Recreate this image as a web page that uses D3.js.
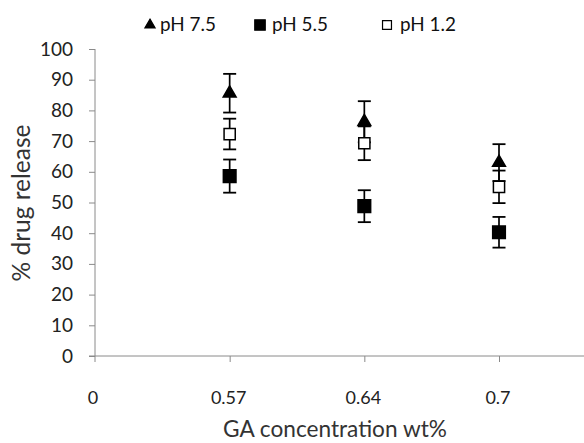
<!DOCTYPE html>
<html><head><meta charset="utf-8">
<script src="https://cdn.jsdelivr.net/npm/d3@7"></script>
<style>body{margin:0;background:#fff}svg{display:block}</style>
</head><body>
<script>
const categories = ["0", "0.57", "0.64", "0.7"];
const yTicks = [0,10,20,30,40,50,60,70,80,90,100];
const seriesNames = ["pH 7.5", "pH 5.5", "pH 1.2"];
const ph75 = [null, 85.6, 76.3, 63.0];
const ph75Err = [null, 6.3, 6.7, 6.0];
const ph55 = [null, 58.6, 48.8, 40.3];
const ph55Err = [null, 5.4, 5.2, 5.0];
const ph12 = [null, 72.3, 69.3, 55.1];
const ph12Err = [null, 5.0, 5.5, 5.3];

const W = 584, H = 443;
const svg = d3.select("body").append("svg").attr("width", W).attr("height", H);
const x = d3.scaleLinear().domain([0, 3]).range([95, 499]);
const y = d3.scaleLinear().domain([0, 100]).range([356, 49]);
const font = "Lato, 'Open Sans', sans-serif";
const axisColor = "#8a8a8a";

function fit(sel, target) {
  sel.each(function() {
    const w = this.getComputedTextLength();
    const fs = parseFloat(this.style.fontSize);
    if (w > 0) d3.select(this).style("font-size", (fs * target / w) + "px");
  });
}

// Y axis
const ya = svg.append("g").attr("transform", "translate(95,0)")
  .call(d3.axisLeft(y).tickValues(yTicks).tickSize(6).tickPadding(16));
ya.select(".domain").remove();
ya.append("line").attr("x1",0).attr("x2",0).attr("y1",y(100)).attr("y2",y(0)+6).attr("stroke",axisColor);
ya.selectAll(".tick line").attr("stroke", axisColor);
ya.selectAll(".tick text").attr("fill","#222").style("font-family", font).style("font-size","19px");

// X axis
const xa = svg.append("g").attr("transform", "translate(0,356)")
  .call(d3.axisBottom(x).tickValues([1,2,3]).tickFormat(i => categories[i]).tickSize(6));
xa.select(".domain").remove();
xa.append("line").attr("x1", x(0)-6).attr("x2", W).attr("y1",0).attr("y2",0).attr("stroke",axisColor);
xa.selectAll(".tick line").attr("stroke", axisColor);
xa.selectAll(".tick text").remove();
svg.append("g").selectAll("text").data(categories).join("text")
  .attr("x", (d,i) => x(i) - (i===0 ? 2 : 1)).attr("y", 404).attr("text-anchor","middle")
  .attr("fill","#222").style("font-family", font).style("font-size","18px").text(d => d);

// Axis titles
svg.append("text").attr("transform","translate(30,203) rotate(-90)").attr("text-anchor","middle")
  .attr("fill","#333").style("font-family", font).style("font-size","19px").text("% drug release")
  .call(fit, 157);
svg.append("text").attr("x", 335).attr("y", 437).attr("text-anchor","middle")
  .attr("fill","#333").style("font-family", font).style("font-size","20px").text("GA concentration wt%")
  .call(fit, 224);

// Error bars and markers
const series = [
  {vals: ph75, err: ph75Err, sym: d3.symbolTriangle, fill:"#000", size: 72},
  {vals: ph12, err: ph12Err, sym: d3.symbolSquare, fill:"#fff", size: 125},
  {vals: ph55, err: ph55Err, sym: d3.symbolSquare, fill:"#000", size: 160}
];
series.forEach(s => {
  const g = svg.append("g");
  const idx = [1,2,3];
  g.selectAll("line.v").data(idx).join("line")
    .attr("x1", i => x(i)).attr("x2", i => x(i))
    .attr("y1", i => y(s.vals[i] + s.err[i])).attr("y2", i => y(s.vals[i] - s.err[i]))
    .attr("stroke","#000").attr("stroke-width",1.7);
  [1,-1].forEach(sg => {
    g.selectAll("line.c"+sg).data(idx).join("line")
      .attr("x1", i => x(i)-6.5).attr("x2", i => x(i)+6.5)
      .attr("y1", i => y(s.vals[i] + sg*s.err[i])).attr("y2", i => y(s.vals[i] + sg*s.err[i]))
      .attr("stroke","#000").attr("stroke-width",1.8);
  });
});
series.forEach(s => {
  svg.append("g").selectAll("path").data([1,2,3]).join("path")
    .attr("transform", i => `translate(${x(i)},${y(s.vals[i])})`)
    .attr("d", d3.symbol().type(s.sym).size(s.size))
    .attr("fill", s.fill).attr("stroke","#000").attr("stroke-width",1.5);
});

// Legend
const legend = [
  {name: seriesNames[0], sym: d3.symbolTriangle, fill:"#000", x: 150, tx: 160, size: 45},
  {name: seriesNames[1], sym: d3.symbolSquare, fill:"#000", x: 260, tx: 272, size: 110},
  {name: seriesNames[2], sym: d3.symbolSquare, fill:"#fff", x: 387, tx: 400, size: 80}
];
const lg = svg.append("g");
lg.selectAll("path").data(legend).join("path")
  .attr("transform", d => `translate(${d.x},25)`)
  .attr("d", d => d3.symbol().type(d.sym).size(d.size)())
  .attr("fill", d => d.fill).attr("stroke","#000").attr("stroke-width",1.2);
lg.selectAll("text").data(legend).join("text")
  .attr("x", d => d.tx).attr("y", 31).attr("fill","#111")
  .style("font-family", font).style("font-size","17px").text(d => d.name)
  .call(fit, 56);
</script>
</body></html>
